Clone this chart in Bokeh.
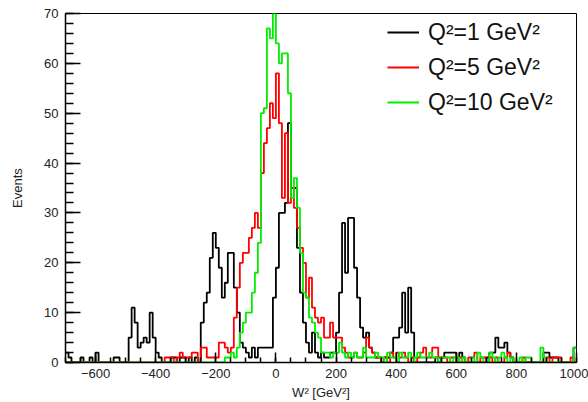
import numpy as np
from bokeh.plotting import figure
from bokeh.models import (SingleIntervalTicker, Legend, LegendItem, Range1d,
                          CustomJSTickFormatter)
from bokeh.embed import file_html
from bokeh.resources import INLINE

# ---- data: histogram binning and counts (bins of 10 GeV^2 from -700 to 1000) ----
x_min = -700
x_max = 1000
bin_width = 10

series_labels = ["Q²=1 GeV²", "Q²=5 GeV²", "Q²=10 GeV²"]

counts_q1 = [
    2, 1, 0, 0, 0, 1, 0, 0, 1, 0,        # -700
    2, 0, 0, 0, 0, 0, 1, 1, 0, 0,        # -600
    0, 5, 11, 8, 3, 4, 5, 4, 10, 5,      # -500
    2, 1, 0, 0, 0, 1, 1, 0, 1, 1,        # -400
    0, 1, 0, 1, 0, 8, 12, 14, 21, 26,    # -300
    23, 19, 13, 16, 22, 22, 15, 10, 4, 3,  # -200
    2, 1, 3, 1, 3, 3, 3, 3, 3, 13,       # -100
    19, 30, 30, 32, 48, 35, 35, 23, 14, 8,  # 0
    4, 2, 6, 2, 1, 2, 1, 1, 2, 2,        # 100
    6, 14, 28, 18, 29, 29, 19, 13, 7, 5,  # 200
    6, 3, 2, 1, 1, 0, 1, 1, 2, 5,        # 300
    5, 7, 14, 6, 15, 6, 0, 0, 0, 0,      # 400
    0, 0, 0, 1, 0, 1, 2, 2, 2, 2,        # 500
    1, 2, 1, 0, 0, 0, 0, 0, 0, 0,        # 600
    1, 2, 2, 5, 3, 3, 4, 2, 1, 0,        # 700
    0, 0, 0, 0, 0, 0, 0, 0, 0, 2,        # 800
    2, 1, 1, 1, 0, 0, 0, 0, 0, 3,        # 900
]

counts_q5 = [
    0, 0, 0, 0, 0, 0, 0, 0, 0, 0,        # -700
    0, 0, 0, 0, 0, 0, 0, 0, 0, 0,        # -600
    0, 0, 0, 0, 0, 0, 0, 0, 0, 0,        # -500
    0, 0, 0, 1, 1, 1, 0, 1, 2, 1,        # -400
    1, 1, 2, 2, 0, 3, 3, 1, 1, 1,        # -300
    1, 4, 4, 3, 2, 3, 9, 15, 20, 22,     # -200
    22, 25, 27, 30, 27, 38, 44, 47, 52, 49,  # -100
    58, 48, 33, 46, 32, 35, 31, 27, 23, 20,  # 0
    13, 17, 11, 9, 8, 9, 5, 5, 8, 5,     # 100
    5, 5, 3, 2, 1, 1, 2, 1, 1, 2,        # 200
    5, 3, 2, 1, 1, 0, 1, 0, 2, 1,        # 300
    2, 1, 2, 1, 0, 1, 0, 1, 2, 3,        # 400
    1, 1, 3, 3, 1, 1, 1, 0, 1, 1,        # 500
    0, 1, 0, 0, 1, 1, 2, 0, 1, 1,        # 600
    0, 1, 0, 1, 0, 0, 1, 2, 1, 0,        # 700
    0, 0, 1, 0, 0, 0, 0, 0, 0, 0,        # 800
    1, 0, 1, 1, 1, 0, 0, 0, 1, 0,        # 900
]

counts_q10 = [
    0, 0, 0, 0, 0, 0, 0, 0, 0, 0,        # -700
    0, 0, 0, 0, 0, 0, 0, 0, 0, 0,        # -600
    0, 0, 0, 0, 0, 0, 0, 0, 0, 0,        # -500
    0, 0, 0, 0, 0, 0, 0, 0, 0, 0,        # -400
    0, 0, 0, 0, 0, 0, 0, 0, 0, 0,        # -300
    0, 0, 0, 1, 1, 2, 1, 3, 6, 8,        # -200
    10, 10, 14, 18, 24, 50, 51, 67, 65, 70,  # -100
    64, 60, 62, 62, 54, 33, 37, 31, 22, 14,  # 0
    13, 9, 8, 6, 5, 2, 2, 2, 1, 2,       # 100
    2, 4, 2, 1, 2, 1, 2, 1, 1, 3,        # 200
    1, 1, 1, 2, 1, 1, 0, 2, 1, 1,        # 300
    0, 2, 1, 1, 2, 0, 1, 2, 1, 1,        # 400
    1, 2, 1, 1, 0, 1, 1, 1, 0, 1,        # 500
    1, 0, 1, 0, 0, 1, 0, 2, 1, 0,        # 600
    0, 2, 1, 0, 1, 2, 1, 0, 1, 0,        # 700
    0, 1, 0, 1, 1, 0, 0, 0, 3, 1,        # 800
    0, 0, 0, 0, 0, 0, 0, 0, 0, 3,        # 900
]

x_ticks_interval = 200
y_ticks_interval = 10

# ---- figure ----
FONT = "Liberation Sans"
edges = np.arange(x_min, x_max + bin_width, bin_width)

p = figure(
    width=588, height=402,
    x_range=Range1d(x_min, x_max), y_range=Range1d(0, 70),
    output_backend="svg", toolbar_location=None,
    min_border_left=65, min_border_right=12, min_border_top=13, min_border_bottom=40,
)
p.background_fill_color = "white"
p.border_fill_color = "white"
p.outline_line_color = "black"
p.outline_line_width = 1
p.xgrid.visible = False
p.ygrid.visible = False

colors = ["#000000", "#ff0000", "#00ee00"]
renderers = []
for counts, col in zip([counts_q1, counts_q5, counts_q10], colors):
    ys = list(counts) + [counts[-1]]
    r = p.step(edges, ys, mode="after", line_color=col, line_width=1.8)
    renderers.append(r)

p.xaxis.ticker = SingleIntervalTicker(interval=x_ticks_interval, num_minor_ticks=4)
p.yaxis.ticker = SingleIntervalTicker(interval=y_ticks_interval, num_minor_ticks=5)
# ROOT-style labels with a typographic minus sign
p.xaxis.formatter = CustomJSTickFormatter(code="""
    return tick < 0 ? '\\u2212' + String(-tick) : String(tick);
""")
for ax in (p.xaxis[0], p.yaxis[0]):
    ax.major_tick_out = 0
    ax.minor_tick_out = 0
    ax.axis_line_color = "black"
    ax.axis_line_width = 1.5
    ax.major_tick_line_color = "black"
    ax.minor_tick_line_color = "black"
    ax.major_tick_line_width = 1.5
    ax.minor_tick_line_width = 1.5
    ax.major_label_text_font = FONT
    ax.major_label_text_font_size = "13px"
    ax.major_label_text_color = "#222222"
    ax.axis_label_text_font = FONT
    ax.axis_label_text_font_size = "13px"
    ax.axis_label_text_font_style = "normal"
    ax.axis_label_text_color = "#222222"
p.xaxis.major_tick_in = 10
p.xaxis.minor_tick_in = 5
p.yaxis.major_tick_in = 15
p.yaxis.minor_tick_in = 8
p.xaxis.major_label_standoff = 6
p.yaxis.major_label_standoff = 7
p.xaxis.axis_label_standoff = 4
p.yaxis.axis_label_standoff = 16
p.xaxis.axis_label = "W² [GeV²]"
p.yaxis.axis_label = "Events"

legend = Legend(
    items=[LegendItem(label=lab, renderers=[r]) for lab, r in zip(series_labels, renderers)],
    location=(322, 246),
    border_line_color=None, background_fill_alpha=0,
    label_text_font=FONT, label_text_font_size="23px", label_text_color="#111111",
    glyph_width=32, glyph_height=28, label_height=28, spacing=7, padding=5,
    label_standoff=9, margin=0,
)
p.add_layout(legend)

open("out.html", "w").write(file_html(p, INLINE))
